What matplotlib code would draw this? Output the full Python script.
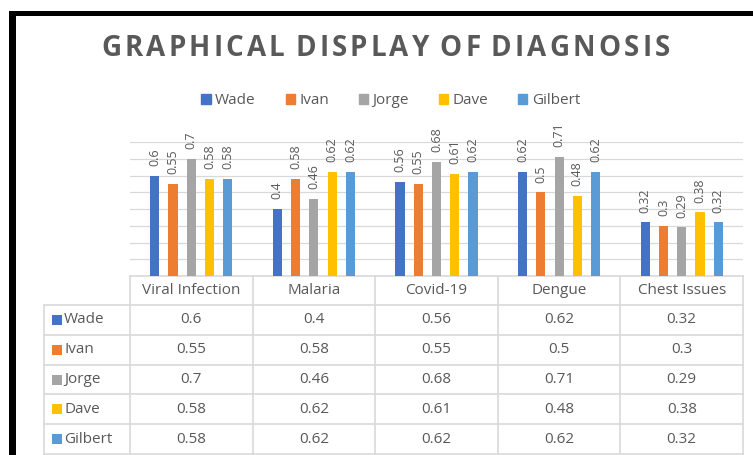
import matplotlib
matplotlib.use("Agg")
import matplotlib.pyplot as plt
from matplotlib.patches import Rectangle

# chart data
categories = ["Viral Infection", "Malaria", "Covid-19", "Dengue", "Chest Issues"]
people = ["Wade", "Ivan", "Jorge", "Dave", "Gilbert"]
wade = [0.6, 0.4, 0.56, 0.62, 0.32]
ivan = [0.55, 0.58, 0.55, 0.5, 0.3]
jorge = [0.7, 0.46, 0.68, 0.71, 0.29]
dave = [0.58, 0.62, 0.61, 0.48, 0.38]
gilbert = [0.58, 0.62, 0.62, 0.62, 0.32]
series = [wade, ivan, jorge, dave, gilbert]
colors = ["#4472C4", "#ED7D31", "#A5A5A5", "#FFC000", "#5B9BD5"]
title = "GRAPHICAL DISPLAY OF DIAGNOSIS"

plt.rcParams['font.family'] = ['Open Sans', 'DejaVu Sans']
text_col = "#595959"
grid_col = "#d9d9d9"

W, H = 753, 455
fig = plt.figure(figsize=(W / 100, H / 100), dpi=100)

# overlay axes in pixel units for frame, title and table
ov = fig.add_axes([0, 0, 1, 1])
ov.set_xlim(0, W)
ov.set_ylim(H, 0)
ov.axis("off")

# black frame from the screenshot
ov.add_patch(Rectangle((9, 11), W - 9, 4.5, color="black", lw=0))
ov.add_patch(Rectangle((9, 11), 7, H - 11, color="black", lw=0))

# bar axes
left, right, base, top = 130, 743, 276, 142
ax = fig.add_axes([left / W, (H - base) / H, (right - left) / W, (base - top) / H])
ax.set_xlim(-0.5, len(categories) - 0.5)
ax.set_ylim(0, 0.8)
ax.patch.set_visible(False)
for s in ax.spines.values():
    s.set_visible(False)
ax.set_xticks([])
ax.set_yticks([])
for g in [0.1, 0.2, 0.3, 0.4, 0.5, 0.6, 0.7, 0.8]:
    ax.axhline(g, color=grid_col, lw=0.9, zorder=0)

bar_w = 0.074
step = 0.149
for i, (name, vals) in enumerate(zip(people, series)):
    xs = [c + (i - 2) * step for c in range(len(categories))]
    ax.bar(xs, vals, width=bar_w, color=colors[i], label=name, zorder=2)
    for x, v in zip(xs, vals):
        ax.annotate(f"{v:g}", (x, v), xytext=(0, 7), textcoords="offset points",
                    rotation=90, ha="center", va="bottom", fontsize=9,
                    color=text_col, annotation_clip=False)

# title with wide letter spacing, drawn one character at a time
renderer = fig.canvas.get_renderer()
t_left, t_right, t_y = 101, 670, 48
widths = []
for ch in title:
    t = ov.text(0, 0, ch if ch != " " else "I", fontsize=20, fontweight="bold")
    w = t.get_window_extent(renderer).width
    t.remove()
    widths.append(w * (0.45 if ch == " " else 1.0))
extra = (t_right - t_left - sum(widths)) / (len(title) - 1)
x = t_left
for ch, w in zip(title, widths):
    if ch != " ":
        ov.text(x, t_y, ch, ha="left", va="center", fontsize=20,
                fontweight="bold", color=text_col)
    x += w + extra

handles = [Rectangle((0, 0), 1, 1, color=c) for c in colors]
fig.legend(handles, people, loc="center", bbox_to_anchor=(0.519, 1 - 101 / H), ncol=5,
           frameon=False, fontsize=11, handlelength=0.6, handleheight=0.6,
           handletextpad=0.3, columnspacing=1.95, labelcolor=text_col)

# data table under the chart
col_edges = [left + k * (right - left) / len(categories) for k in range(len(categories) + 1)]
row_edges = [base, 305, 334.8, 364.6, 394.4, 424.2, 454]
lab_left = 44

ov.plot([left, right], [base, base], color=grid_col, lw=1.2)
for y in row_edges[1:]:
    ov.plot([lab_left, right], [y, y], color=grid_col, lw=1.2)
ov.plot([lab_left, lab_left], [row_edges[1], row_edges[-1]], color=grid_col, lw=1.2)
for x in col_edges:
    ov.plot([x, x], [base, row_edges[-1]], color=grid_col, lw=1.2)

for j, cat in enumerate(categories):
    cx = (col_edges[j] + col_edges[j + 1]) / 2
    ov.text(cx, (row_edges[0] + row_edges[1]) / 2, cat, ha="center", va="center",
            fontsize=11, color=text_col)

for i, (name, vals) in enumerate(zip(people, series)):
    cy = (row_edges[i + 1] + row_edges[i + 2]) / 2
    ov.add_patch(Rectangle((52, cy - 5), 10, 10, color=colors[i], lw=0))
    ov.text(64, cy, name, ha="left", va="center", fontsize=11, color=text_col)
    for j, v in enumerate(vals):
        cx = (col_edges[j] + col_edges[j + 1]) / 2
        ov.text(cx, cy, f"{v:g}", ha="center", va="center", fontsize=11, color=text_col)

fig.savefig("out.png", dpi=100)
